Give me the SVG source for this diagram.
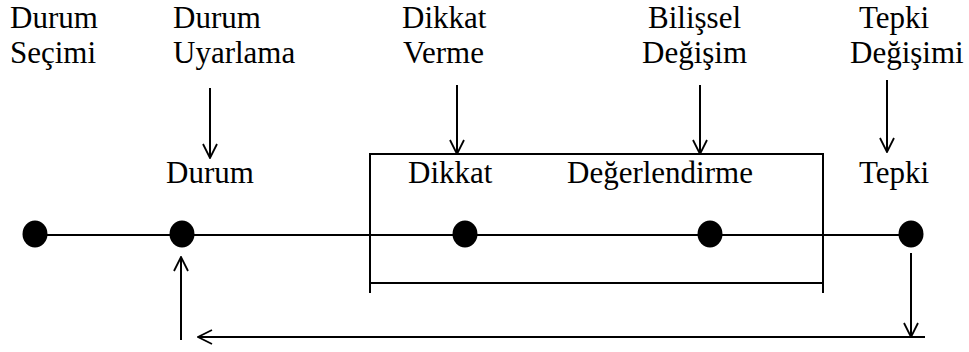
<svg xmlns="http://www.w3.org/2000/svg" width="969" height="352" viewBox="0 0 969 352">
<defs>
<style>
.ln{stroke:#000;stroke-width:2;fill:none}
.dot{fill:#000}
</style>
<marker id="arr" viewBox="0 0 16 16" refX="15" refY="8" markerWidth="16" markerHeight="16" markerUnits="userSpaceOnUse" orient="auto">
<path d="M1,1 L15,8 L1,15" fill="none" stroke="#000" stroke-width="1.8"/>
</marker>
</defs>
<rect width="969" height="352" fill="#fff"/>
<g font-family="'Liberation Serif', 'DejaVu Serif', serif" font-size="31" fill="#000">
<g id="labels-top">
<g id="durum-secimi"><text x="10" y="28">Durum</text><text x="10" y="63">Seçimi</text></g>
<g id="durum-uyarlama"><text x="173" y="28">Durum</text><text x="173" y="63">Uyarlama</text></g>
<g id="dikkat-verme"><text x="402" y="28">Dikkat</text><text x="403" y="63">Verme</text></g>
<g id="bilissel-degisim"><text x="648" y="28">Bilişsel</text><text x="642" y="63">Değişim</text></g>
<g id="tepki-degisimi"><text x="859" y="28">Tepki</text><text x="850" y="63">Değişimi</text></g>
</g>
<g id="box"><path class="ln" d="M370,293 V154 H823 V293 M370,283 H823"/></g>
<g id="connectors">
<line class="ln" x1="35" y1="235" x2="911" y2="235"/>
<line class="ln" x1="210" y1="88" x2="210" y2="158" marker-end="url(#arr)"/>
<line class="ln" x1="457" y1="85" x2="457" y2="154" marker-end="url(#arr)"/>
<line class="ln" x1="700" y1="85" x2="700" y2="154" marker-end="url(#arr)"/>
<line class="ln" x1="887" y1="80" x2="887" y2="152" marker-end="url(#arr)"/>
<line class="ln" x1="911" y1="253" x2="911" y2="337" marker-end="url(#arr)"/>
<line class="ln" x1="925" y1="337" x2="198" y2="337" marker-end="url(#arr)"/>
<line class="ln" x1="181" y1="340" x2="181" y2="257" marker-end="url(#arr)"/>
</g>
<g id="node-durum"><ellipse class="dot" cx="182" cy="234" rx="12.5" ry="13.5"/><text x="166" y="183">Durum</text></g>
<g id="node-start"><ellipse class="dot" cx="35" cy="234" rx="12.5" ry="13.5"/></g>
<g id="node-dikkat"><ellipse class="dot" cx="465" cy="234" rx="12.5" ry="13.5"/><text x="408" y="183">Dikkat</text></g>
<g id="node-degerlendirme"><ellipse class="dot" cx="710" cy="234" rx="12.5" ry="13.5"/><text x="567" y="183">Değerlendirme</text></g>
<g id="node-tepki"><ellipse class="dot" cx="911" cy="234" rx="12.5" ry="13.5"/><text x="859" y="183">Tepki</text></g>
</g>
</svg>
